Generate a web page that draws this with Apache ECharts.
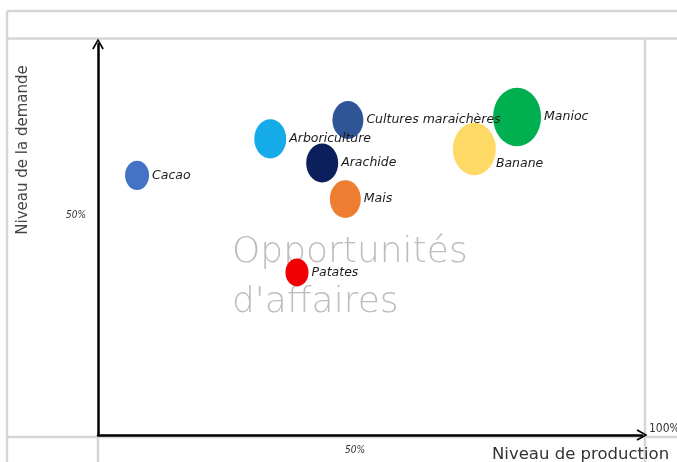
<!DOCTYPE html>
<html>
<head>
<meta charset="utf-8">
<script src="https://cdn.jsdelivr.net/npm/echarts@6/dist/echarts.min.js"></script>
<style>
html,body{margin:0;padding:0;background:#fff;}
#c{width:677px;height:462px;}
</style>
</head>
<body>
<div id="c"></div>
<script>
// ---- data ----
var categories = ['Cacao', 'Arboriculture', 'Cultures maraichères', 'Arachide', 'Mais', 'Patates', 'Banane', 'Manioc'];
var production = [7.6, 33.5, 48.6, 43.6, 48.1, 38.7, 73.2, 81.5];   // Niveau de production (%)
var demande    = [59.1, 67.4, 71.7, 61.9, 53.7, 37.0, 65.1, 72.4];  // Niveau de la demande (%)
var taille     = [24, 32, 31, 32, 31, 23, 43, 48];                  // bubble size
var colors = ['#4472C4', '#14ABE8', '#2F5597', '#0A1F5C', '#ED7D31', '#F00000', '#FFD966', '#00B050'];
var xTickValues = [50], xTickLabels = ['50%'];
var yTickValues = [50], yTickLabels = ['50%'];
var xEndLabel = '100%';
var xTitle = 'Niveau de production';
var yTitle = 'Niveau de la demande';
var watermark = ['Opportunités', "d'affaires"];

var chart = echarts.init(document.getElementById('c'), null, {renderer: 'canvas'});

var seriesData = categories.map(function (n, i) {
  var item = {name: n, value: [production[i], demande[i], taille[i]], itemStyle: {color: colors[i]}};
  if (n === 'Banane') {
    item.label = {position: 'right', offset: [-3, 15]};
  }
  return item;
});

var chevron = 'path://M0,12 L7,0 L14,12 L12.2,13.2 L7,3.6 L1.8,13.2 Z';
var frameColor = '#D6D6D6';
function ln(x1, y1, x2, y2) {
  return {type: 'line', silent: true, z: -10, shape: {x1: x1, y1: y1, x2: x2, y2: y2}, style: {stroke: frameColor, lineWidth: 2.5}};
}

chart.setOption({
  animation: false,
  backgroundColor: '#ffffff',
  grid: {left: 98, right: 35, top: 44, bottom: 27, containLabel: false, outerBoundsMode: 'none'},
  xAxis: {
    type: 'value', min: 0, max: 105.8, interval: 50,
    axisLine: {show: true, lineStyle: {color: '#000', width: 2.5}, symbol: ['none', chevron], symbolSize: [14, 11]},
    axisTick: {show: false},
    splitLine: {show: false},
    axisLabel: {
      margin: 10, color: '#333', fontSize: 10, fontStyle: 'italic', fontFamily: 'DejaVu Sans Condensed, DejaVu Sans',
      formatter: function (v) { var k = xTickValues.indexOf(v); return k >= 0 ? xTickLabels[k] : ''; }
    },
    name: xEndLabel, nameLocation: 'end', nameGap: 7,
    nameTextStyle: {color: '#333', fontSize: 12, fontFamily: 'DejaVu Sans Condensed, DejaVu Sans', align: 'left', verticalAlign: 'bottom'}
  },
  yAxis: {
    type: 'value', min: 0, max: 89.0, interval: 50,
    axisLine: {show: true, lineStyle: {color: '#000', width: 2.5}, symbol: ['none', chevron], symbolSize: [14, 11]},
    axisTick: {show: false},
    splitLine: {show: false},
    axisLabel: {
      margin: 12, color: '#333', fontSize: 10, fontStyle: 'italic', fontFamily: 'DejaVu Sans Condensed, DejaVu Sans',
      formatter: function (v) { var k = yTickValues.indexOf(v); return k >= 0 ? yTickLabels[k] : ''; }
    }
  },
  graphic: [
    ln(7, 11, 677, 11),
    ln(7, 38.5, 677, 38.5),
    ln(7, 11, 7, 462),
    ln(645, 38.5, 645, 462),
    ln(7, 437, 677, 437),
    ln(98, 437, 98, 462),
    {type: 'text', z: -5, silent: true, left: 232, top: 228,
      style: {text: watermark.join('\n'), font: '200 36px "DejaVu Sans"', fill: '#BDBDBD', lineHeight: 50}},
    {type: 'text', silent: true, x: 492, y: 455,
      style: {text: xTitle, font: '16.5px "DejaVu Sans"', fill: '#333', verticalAlign: 'middle', align: 'left'}},
    {type: 'text', silent: true, x: 23, y: 150, rotation: Math.PI / 2,
      style: {text: yTitle, font: '15px "DejaVu Sans"', fill: '#444', verticalAlign: 'middle', align: 'center'}}
  ],
  series: [{
    type: 'scatter',
    symbol: 'circle',
    symbolSize: function (val) { return [val[2], val[2] * 1.22]; },
    data: seriesData,
    label: {
      show: true, position: 'right', distance: 3,
      formatter: '{b}', color: '#1a1a1a', fontSize: 12.5, fontStyle: 'italic', fontFamily: 'DejaVu Sans'
    },
    itemStyle: {opacity: 1}
  }]
});
</script>
</body>
</html>
